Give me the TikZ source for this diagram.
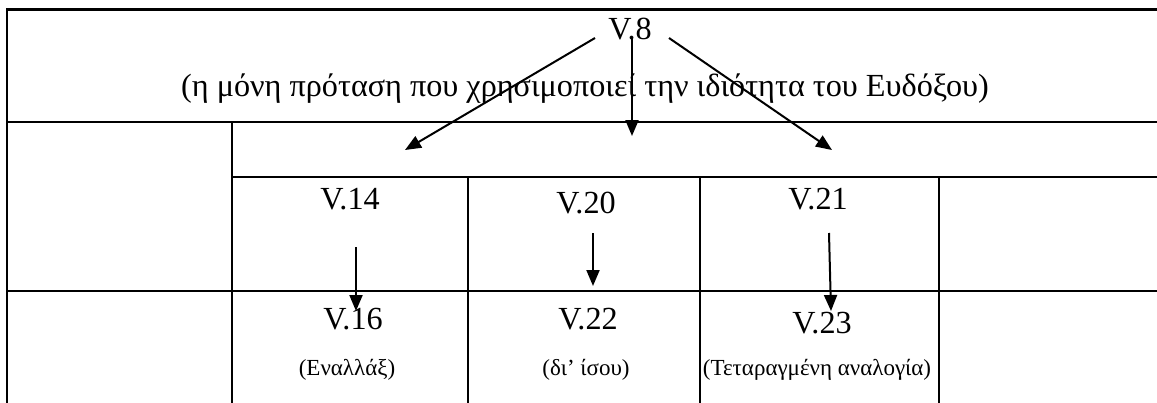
\documentclass[tikz,border=0pt]{standalone}
\usepackage{fontspec}
\setmainfont{Liberation Serif}
\usetikzlibrary{arrows.meta}
\begin{document}
\begin{tikzpicture}[x=1pt,y=-1pt,
  grid/.style={line width=2.6pt,line cap=rect},
  conn/.style={line width=2pt,-{Triangle[length=16pt,width=13pt]}},
  big/.style={font=\fontsize{32.2}{36}\selectfont,inner sep=0pt,anchor=base},
  small/.style={font=\fontsize{23}{26}\selectfont,inner sep=0pt,anchor=base}]
\useasboundingbox (0,0) rectangle (1157,402);
% table
\draw[grid] (7,9.5) -- (1160,9.5);
\draw[grid] (7,9.5) -- (7,405);
\draw[grid] (7,122) -- (1160,122);
\draw[grid] (232,122) -- (232,405);
\draw[grid] (232,177) -- (1160,177);
\draw[grid] (7,291) -- (1160,291);
\draw[grid] (468,177) -- (468,405);
\draw[grid] (700,177) -- (700,405);
\draw[grid] (939,177) -- (939,405);
% texts
\node[big] (v8) at (630,39) {V.8};
\node[big] (sub) at (585,96) {(η μόνη πρόταση που χρησιμοποιεί την ιδιότητα του Ευδόξου)};
\node[big] (v14) at (350,209) {V.14};
\node[big] (v20) at (586,213) {V.20};
\node[big] (v21) at (818,209) {V.21};
\node[big] (v16) at (353,329) {V.16};
\node[big] (v22) at (588,329) {V.22};
\node[big] (v23) at (822,333) {V.23};
\node[small] (e16) at (347,375) {(Εναλλάξ)};
\node[small] (e22) at (586,375) {(δι’ ίσου)};
\node[small] (e23) at (817,375) {(Τεταραγμένη αναλογία)};
% arrow end points
\coordinate (s1) at (595,38);
\coordinate (s2) at (632,38);
\coordinate (s3) at (669,38);
\coordinate (t1) at (405,150);
\coordinate (t2) at (632,136);
\coordinate (t3) at (832,150);
\coordinate (a14) at (356,247);
\coordinate (b14) at (356,311);
\coordinate (a20) at (593,233);
\coordinate (b20) at (593,286);
\coordinate (a21) at (829,233);
\coordinate (b21) at (831,311);
\draw[conn] (s1) -- (t1);
\draw[conn] (s2) -- (t2);
\draw[conn] (s3) -- (t3);
\draw[conn] (a14) -- (b14);
\draw[conn] (a20) -- (b20);
\draw[conn] (a21) -- (b21);
\end{tikzpicture}
\end{document}
